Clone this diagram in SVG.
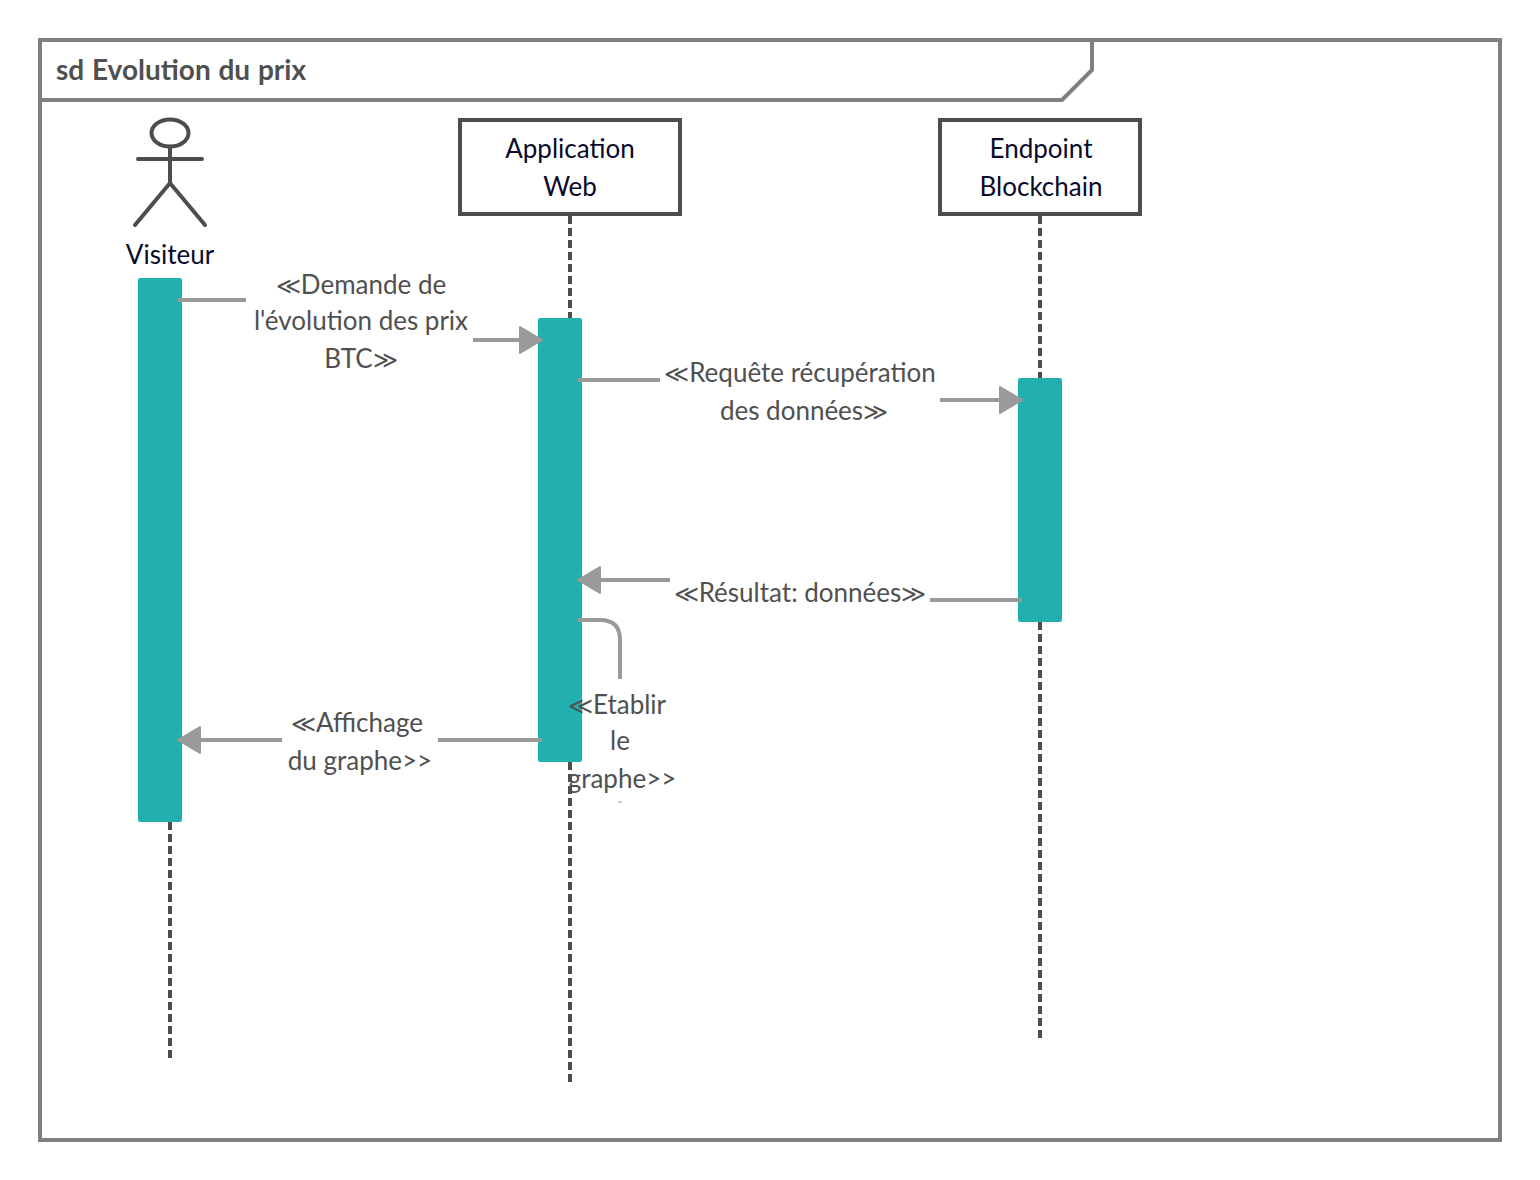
<svg xmlns="http://www.w3.org/2000/svg" width="1540" height="1180" viewBox="0 0 1540 1180">
<defs>
<marker id="arrow" markerUnits="userSpaceOnUse" markerWidth="26" markerHeight="30" refX="24" refY="15" orient="auto">
<path d="M2 2 L24 15 L2 28 Z" fill="#999999" stroke="#999999" stroke-width="2" stroke-linejoin="round"/>
</marker>
</defs>
<style>
text{font-family:Lato,"Open Sans","Liberation Sans",sans-serif;font-size:26px;text-anchor:middle}
.n{fill:#0a0a2a}
.m{fill:#505050}
.g{font-size:24px}
.life{fill:none;stroke:#4d4d4d;stroke-width:4;stroke-dasharray:8 4}
.box{fill:#fff;stroke:#4d4d4d;stroke-width:4}
.act{fill:#22b0af}
.msg{fill:none;stroke:#999999;stroke-width:4}
.stick{fill:none;stroke:#4d4d4d;stroke-width:4;stroke-linecap:round}
</style>
<rect width="1540" height="1180" fill="#fff"/>
<g id="frame">
<rect x="40" y="40" width="1460" height="1100" fill="#fff" stroke="#808080" stroke-width="4"/>
<path d="M40 100 H1062 L1092 70 V40" fill="none" stroke="#808080" stroke-width="4"/>
<text x="56" y="80" class="m" style="text-anchor:start;font-weight:700;font-size:28px;word-spacing:1px">sd Evolution du prix</text>
</g>
<g id="lifelines">
<path class="life" d="M170 822 V1060"/>
<path class="life" d="M570 216 V318 M570 762 V1082"/>
<path class="life" d="M1040 216 V378 M1040 622 V1040"/>
</g>
<g id="visiteur">
<ellipse cx="170" cy="133" rx="18.500" ry="13.500" fill="#fff" stroke="#4d4d4d" stroke-width="4"/>
<path class="stick" d="M170 147 V183 M138 159 H202 M135 225 L170 183 L205 225"/>
<text x="170" y="264" class="n">Visiteur</text>
</g>
<g id="application-web">
<rect class="box" x="460" y="120" width="220" height="94"/>
<text x="570" y="158" class="n">Application</text>
<text x="570" y="196" class="n">Web</text>
</g>
<g id="endpoint-blockchain">
<rect class="box" x="940" y="120" width="200" height="94"/>
<text x="1041" y="158" class="n">Endpoint</text>
<text x="1041" y="196" class="n">Blockchain</text>
</g>
<g id="activations">
<rect class="act" x="138" y="278" width="44" height="544" rx="2"/>
<rect class="act" x="538" y="318" width="44" height="444" rx="2"/>
<rect class="act" x="1018" y="378" width="44" height="244" rx="2"/>
</g>
<g id="connectors">
<path class="msg" d="M178 300 H246"/>
<path class="msg" d="M473 340 H542" marker-end="url(#arrow)"/>
<path class="msg" d="M578 380 H660"/>
<path class="msg" d="M940 400 H1022" marker-end="url(#arrow)"/>
<path class="msg" d="M1022 600 H930"/>
<path class="msg" d="M670 580 H578" marker-end="url(#arrow)"/>
<path class="msg" d="M578 620 H600 Q620 620 620 640 V679"/>
<path class="msg" d="M542 740 H438"/>
<path class="msg" d="M282 740 H178" marker-end="url(#arrow)"/>
<path d="M618 802 H622" stroke="#999999" stroke-width="1" fill="none"/>
</g>
<g id="labels">
<text x="361" y="294" class="m"><tspan class="g">≪</tspan>Demande de</text>
<text x="361" y="330" class="m">l'évolution des prix</text>
<text x="361" y="368" class="m">BTC<tspan class="g">≫</tspan></text>
<text x="800" y="382" class="m"><tspan class="g">≪</tspan>Requête récupération</text>
<text x="804" y="420" class="m">des données<tspan class="g">≫</tspan></text>
<text x="800" y="602" class="m"><tspan class="g">≪</tspan>Résultat: données<tspan class="g">≫</tspan></text>
<text x="617" y="714" class="m"><tspan class="g">≪</tspan>Etablir</text>
<text x="620" y="750" class="m">le</text>
<text x="622" y="788" class="m">graphe&gt;&gt;</text>
<text x="357" y="732" class="m"><tspan class="g">≪</tspan>Affichage</text>
<text x="360" y="770" class="m">du graphe&gt;&gt;</text>
</g>
</svg>
